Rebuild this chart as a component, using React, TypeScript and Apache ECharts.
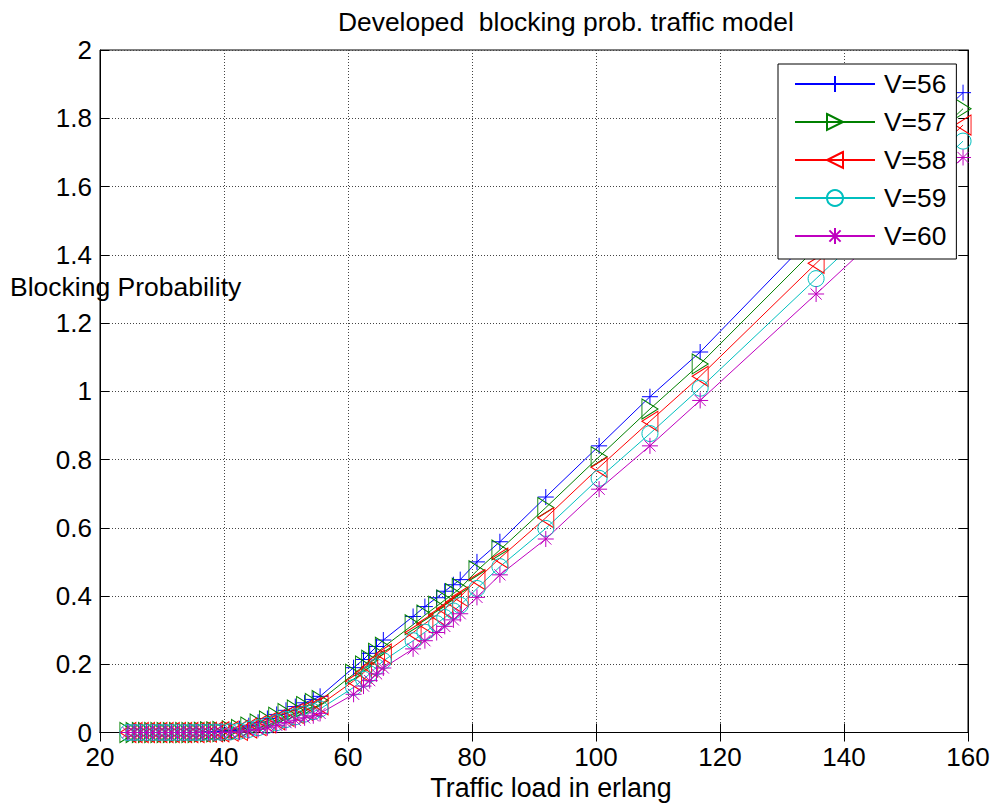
import React, { useEffect, useRef } from 'react';
import * as echarts from 'echarts';

// Traffic load (erlang) sample points
const trafficLoad = [
  24.5, 25.5, 26.5, 27.5, 28.5, 29.5, 30.5, 31.5, 32.5, 33.5, 34.5, 35.5,
  36.5, 37.5, 38.5, 39.5,
  41, 42.5, 44, 45.5, 47, 48.5, 50, 51.5, 53, 54.4, 55.5,
  60.9, 62.5, 63.5, 64.6, 65.7,
  70.5, 72.4, 74.3, 75.6, 77, 78.1,
  80.8, 84.5, 91.9, 100.5, 108.7, 116.8, 135.5, 159.2,
];

const v56 = [
  0, 0, 0, 0, 0, 0, 0, 0, 0, 0, 0, 0,
  0.001, 0.002, 0.003, 0.004,
  0.006, 0.011, 0.02, 0.03, 0.041, 0.053, 0.065, 0.076, 0.087, 0.097, 0.106,
  0.19, 0.214, 0.232, 0.252, 0.271,
  0.34, 0.369, 0.395, 0.414, 0.433, 0.448,
  0.5, 0.559, 0.69, 0.84, 0.984, 1.115, 1.465, 1.875,
];
const v57 = [
  0, 0, 0, 0, 0, 0, 0, 0, 0, 0, 0, 0,
  0.001, 0.002, 0.002, 0.003,
  0.005, 0.009, 0.016, 0.025, 0.034, 0.045, 0.056, 0.066, 0.076, 0.085, 0.094,
  0.171, 0.195, 0.212, 0.232, 0.25,
  0.316, 0.344, 0.37, 0.388, 0.407, 0.423,
  0.474, 0.535, 0.659, 0.808, 0.948, 1.08, 1.42, 1.828,
];
const v58 = [
  0, 0, 0, 0, 0, 0, 0, 0, 0, 0, 0, 0,
  0.001, 0.001, 0.002, 0.002,
  0.004, 0.006, 0.013, 0.02, 0.028, 0.037, 0.047, 0.056, 0.065, 0.073, 0.081,
  0.151, 0.175, 0.192, 0.212, 0.23,
  0.293, 0.319, 0.344, 0.363, 0.382, 0.398,
  0.448, 0.511, 0.629, 0.777, 0.912, 1.044, 1.375, 1.78,
];
const v59 = [
  0, 0, 0, 0, 0, 0, 0, 0, 0, 0, 0, 0,
  0, 0.001, 0.001, 0.001,
  0.002, 0.004, 0.009, 0.014, 0.021, 0.029, 0.038, 0.046, 0.054, 0.061, 0.069,
  0.132, 0.156, 0.172, 0.192, 0.21,
  0.269, 0.294, 0.319, 0.337, 0.356, 0.373,
  0.422, 0.486, 0.598, 0.745, 0.876, 1.009, 1.33, 1.733,
];
const v60 = [
  0, 0, 0, 0, 0, 0, 0, 0, 0, 0, 0, 0,
  0, 0, 0, 0,
  0.001, 0.001, 0.005, 0.009, 0.014, 0.021, 0.029, 0.036, 0.043, 0.049, 0.056,
  0.112, 0.136, 0.152, 0.172, 0.189,
  0.245, 0.269, 0.293, 0.311, 0.33, 0.348,
  0.396, 0.462, 0.567, 0.713, 0.84, 0.973, 1.285, 1.685,
];

const seriesNames = ['V=56', 'V=57', 'V=58', 'V=59', 'V=60'];
const seriesValues = [v56, v57, v58, v59, v60];
const seriesColors = ['#0000ff', '#008000', '#ff0000', '#00bfbf', '#bf00bf'];
const seriesSymbols = [
  'path://M5,0L5,10M0,5L10,5',
  'path://M0,0L8,5L0,10Z',
  'path://M8,0L0,5L8,10Z',
  'circle',
  'path://M5,0L5,10M0,5L10,5M1.5,1.5L8.5,8.5M1.5,8.5L8.5,1.5',
];
const seriesSymbolSizes = [[16, 16], [16, 20], [16, 20], [16, 16], [16, 16]];

const FONT = '"Liberation Sans", Arial, Helvetica, sans-serif';

export default function App() {
  const ref = useRef<HTMLDivElement>(null);

  useEffect(() => {
    if (!ref.current) return;
    const chart = echarts.init(ref.current, undefined, { renderer: 'svg' });

    const axisCommon = {
      axisLine: { show: true, lineStyle: { color: '#000', width: 1 } },
      axisTick: { show: true, inside: true, length: 9, lineStyle: { color: '#000', width: 1 } },
    };

    chart.setOption({
      animation: false,
      backgroundColor: '#fff',
      title: {
        text: 'Developed  blocking prob. traffic model',
        left: 333,
        top: 4,
        textStyle: { fontSize: 26.4, fontWeight: 'normal', color: '#000', fontFamily: FONT },
      },
      grid: {
        left: 100,
        top: 50,
        width: 868,
        height: 682.5,
        show: true,
        borderColor: '#000',
        borderWidth: 1,
        backgroundColor: '#fff',
      },
      legend: {
        orient: 'vertical',
        left: 778,
        top: 64,
        z: 20,
        backgroundColor: '#fff',
        borderColor: '#000',
        borderWidth: 1,
        padding: [7, 10, 10, 16],
        itemWidth: 80,
        itemHeight: 20,
        itemGap: 12,
        data: seriesNames,
        textStyle: { fontSize: 26.4, color: '#000', fontFamily: FONT, padding: [0, 0, 0, 4] },
      },
      xAxis: [
        {
          type: 'value',
          min: 20,
          max: 160,
          interval: 20,
          ...axisCommon,
          axisLabel: { fontSize: 26, color: '#000', fontFamily: FONT, margin: 11 },
          splitLine: { show: true, lineStyle: { color: '#444', type: [1, 2], width: 1 } },
        },
        {
          type: 'value',
          position: 'top',
          min: 20,
          max: 160,
          interval: 20,
          ...axisCommon,
          axisLabel: { show: false },
          splitLine: { show: false },
        },
      ],
      yAxis: [
        {
          type: 'value',
          min: 0,
          max: 2,
          interval: 0.2,
          ...axisCommon,
          axisLabel: {
            fontSize: 26,
            color: '#000',
            fontFamily: FONT,
            margin: 8,
            formatter: (v: number) => String(+v.toFixed(1)),
          },
          splitLine: { show: true, lineStyle: { color: '#444', type: [1, 2], width: 1 } },
        },
        {
          type: 'value',
          position: 'right',
          min: 0,
          max: 2,
          interval: 0.2,
          ...axisCommon,
          axisLabel: { show: false },
          splitLine: { show: false },
        },
      ],
      graphic: [
        {
          type: 'text',
          left: 10,
          top: 273,
          z: 20,
          style: { text: 'Blocking Probability', fontSize: 26.5, fill: '#000', fontFamily: FONT },
        },
        {
          type: 'text',
          x: 551,
          y: 788,
          style: {
            text: 'Traffic load in erlang',
            fontSize: 26.8,
            fill: '#000',
            fontFamily: FONT,
            textAlign: 'center',
            textVerticalAlign: 'middle',
          },
        },
      ],
      series: seriesNames.map((name, i) => ({
        type: 'line',
        name,
        xAxisIndex: 0,
        yAxisIndex: 0,
        data: trafficLoad.map((x, j) => [x, seriesValues[i][j]]),
        symbol: seriesSymbols[i],
        symbolSize: seriesSymbolSizes[i],
        symbolKeepAspect: false,
        showSymbol: true,
        z: 2,
        lineStyle: { color: seriesColors[i], width: 1 },
        itemStyle: { color: 'none', borderColor: seriesColors[i], borderWidth: 1 },
        emphasis: { disabled: true },
      })),
    });

    return () => chart.dispose();
  }, []);

  return (
    <div
      ref={ref}
      style={{ position: 'fixed', left: 0, top: 0, width: 996, height: 807, background: '#fff' }}
    />
  );
}
